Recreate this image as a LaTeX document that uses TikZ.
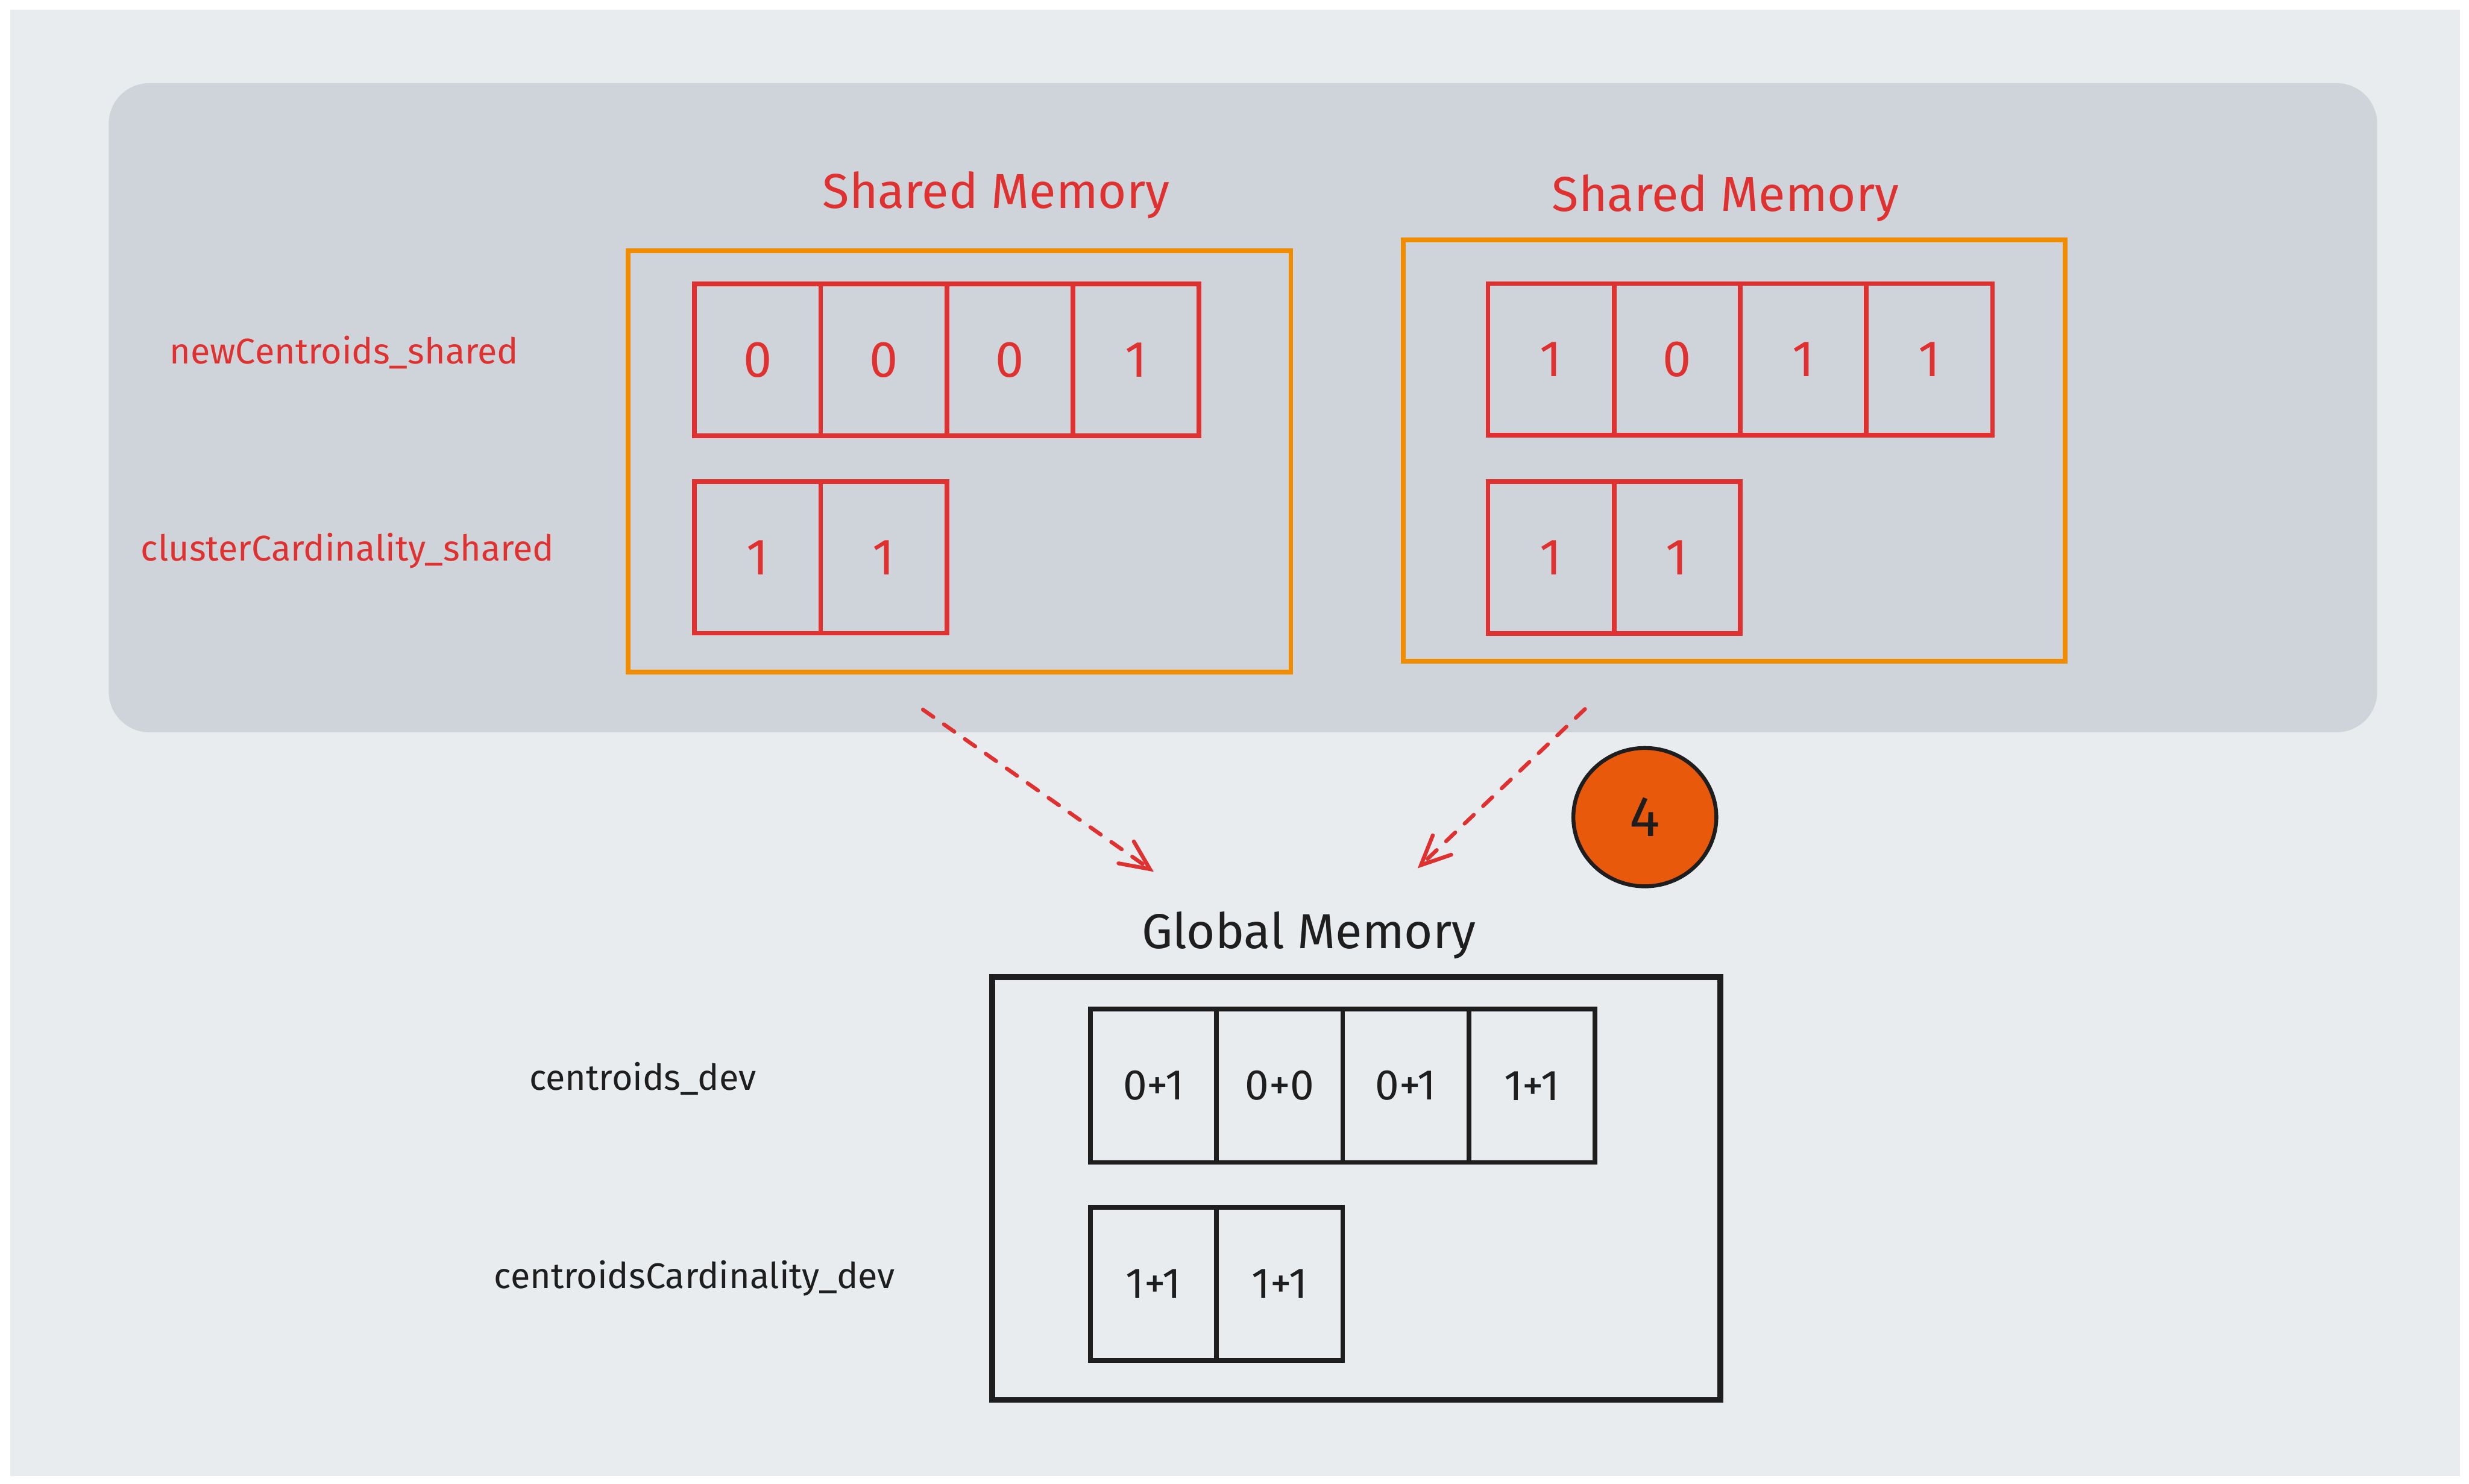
\documentclass[tikz,border=0pt]{standalone}
\usepackage{fontspec}
\setmainfont{Fira Sans}
\usetikzlibrary{arrows.meta,shapes.geometric}
\definecolor{exred}{HTML}{E03131}
\definecolor{exorange}{HTML}{F08C00}
\definecolor{exblack}{HTML}{1E1E1E}
\definecolor{excircle}{HTML}{E8590C}
\definecolor{outerbg}{HTML}{E9ECEF}
\definecolor{innerbg}{HTML}{CED4DA}
\tikzset{
  redcell/.style={draw=exred, line width=2.3pt, minimum width=2.17cm, minimum height=2.61cm, inner sep=0pt, anchor=north west, text=exred, font=\fontsize{25}{30}\selectfont},
  blkcell/.style={draw=exblack, line width=2.3pt, minimum width=2.17cm, minimum height=2.64cm, inner sep=0pt, anchor=north west, text=exblack, font=\fontsize{21}{25}\selectfont},
  orbox/.style={draw=exorange, line width=2.3pt, inner sep=0pt, anchor=north west},
  gbox/.style={draw=exblack, line width=2.8pt, inner sep=0pt, anchor=north west},
  titletext/.style={font=\fontsize{24}{29}\selectfont, anchor=base, inner sep=0pt},
  redlabel/.style={text=exred, font=\fontsize{17.5}{21}\selectfont, anchor=base, inner sep=0pt},
  blklabel/.style={text=exblack, font=\fontsize{17.5}{21}\selectfont, anchor=base, inner sep=0pt},
  flow/.style={draw=exred, line width=1.9pt, line cap=round, dash pattern=on 0.22cm off 0.22cm, -{Straight Barb[length=5mm,width=4.6mm,line cap=round]}},
}
\begin{document}
\begin{tikzpicture}
\useasboundingbox (0,0) rectangle (42.48,-25.53);
\fill[white] (0,0) rectangle (42.48,-25.53);
\fill[outerbg] (0.18,-0.17) rectangle (42.32,-25.40);
\fill[innerbg, rounded corners=0.7cm] (1.87,-1.43) rectangle (40.90,-12.60);

% titles
\node[titletext, text=exred] (t1) at (17.14,-3.58) {Shared Memory};
\node[titletext, text=exred] (t2) at (29.69,-3.64) {Shared Memory};
\node[titletext, text=exblack] (t3) at (22.52,-16.32) {Global Memory};

% labels
\node[redlabel] (l1) at (5.92,-6.26) {newCentroids\_shared};
\node[redlabel] (l2) at (5.98,-9.65) {clusterCardinality\_shared};
\node[blklabel] (l3) at (11.06,-18.76) {centroids\_dev};
\node[blklabel] (l4) at (11.95,-22.17) {centroidsCardinality\_dev};

% left shared memory
\node[orbox, minimum width=11.40cm, minimum height=7.25cm] (sm1) at (10.77,-4.27) {};
\node[redcell] (a1) at (11.91,-4.845) {0};
\node[redcell] (a2) at (14.08,-4.845) {0};
\node[redcell] (a3) at (16.25,-4.845) {0};
\node[redcell] (a4) at (18.42,-4.845) {1};
\node[redcell] (b1) at (11.91,-8.245) {1};
\node[redcell] (b2) at (14.08,-8.245) {1};

% right shared memory
\node[orbox, minimum width=11.39cm, minimum height=7.25cm] (sm2) at (24.10,-4.09) {};
\node[redcell] (c1) at (25.56,-4.84) {1};
\node[redcell] (c2) at (27.73,-4.84) {0};
\node[redcell] (c3) at (29.90,-4.84) {1};
\node[redcell] (c4) at (32.07,-4.84) {1};
\node[redcell] (d1) at (25.56,-8.25) {1};
\node[redcell] (d2) at (27.73,-8.25) {1};

% global memory
\node[gbox, minimum width=12.53cm, minimum height=7.28cm] (gm) at (17.02,-16.76) {};
\node[blkcell] (e1) at (18.72,-17.32) {0+1};
\node[blkcell] (e2) at (20.89,-17.32) {0+0};
\node[blkcell] (e3) at (23.06,-17.32) {0+1};
\node[blkcell] (e4) at (25.23,-17.32) {1+1};
\node[blkcell] (f1) at (18.72,-20.73) {1+1};
\node[blkcell] (f2) at (20.89,-20.73) {1+1};

% step marker
\node[ellipse, draw=exblack, line width=1.9pt, fill=excircle, minimum width=2.46cm, minimum height=2.38cm, inner sep=0pt, font=\fontsize{28}{33}\selectfont, text=exblack] (step4) at (28.30,-14.06) {4};

% arrows
\coordinate (s1) at (15.88,-12.21);
\coordinate (e1end) at (19.85,-15.00);
\coordinate (s2) at (27.27,-12.20);
\coordinate (e2end) at (24.39,-14.94);
\draw[flow] (s1) -- (e1end);
\draw[flow] (s2) -- (e2end);
\end{tikzpicture}
\end{document}
